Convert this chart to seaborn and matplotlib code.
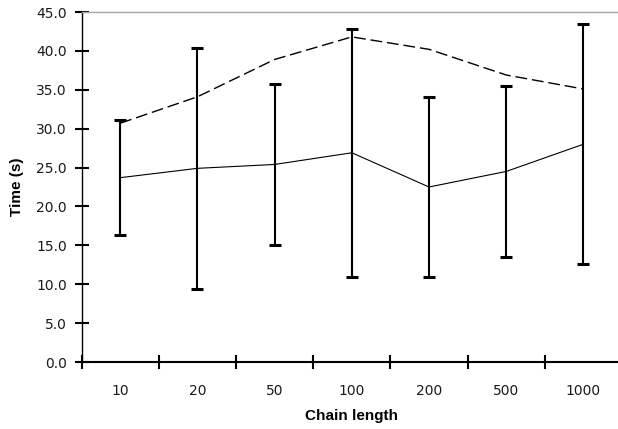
import matplotlib
matplotlib.use("Agg")
import matplotlib.pyplot as plt
import seaborn as sns
import numpy as np
import pandas as pd

# ---- data ----
chain_lengths = ["10", "20", "50", "100", "200", "500", "1000"]
mean_time = [23.7, 24.9, 25.4, 26.9, 22.5, 24.5, 28.0]
sd_time = [7.4, 15.45, 10.35, 15.95, 11.55, 11.05, 15.45]
upper_time = [30.7, 34.1, 38.9, 41.8, 40.2, 36.9, 35.1]
y_ticks = [0, 5, 10, 15, 20, 25, 30, 35, 40, 45]
y_tick_labels = ["0.0", "5.0", "10.0", "15.0", "20.0", "25.0", "30.0", "35.0", "40.0", "45.0"]
x_label = "Chain length"
y_label = "Time (s)"

sns.set_theme(style="white")
plt.rcParams["font.family"] = ["DejaVu Sans"]

fig = plt.figure(figsize=(6.18, 4.29), dpi=100)
fig.patch.set_facecolor("white")
W, H = 618, 429
ax_left, ax_right, ax_top, ax_bottom = 81.7, 622.0, 12.0, 362.0
ax = fig.add_axes([ax_left / W, (H - ax_bottom) / H,
                   (ax_right - ax_left) / W, (ax_bottom - ax_top) / H])
ax.set_facecolor("white")

pos = np.arange(len(chain_lengths))
df = pd.DataFrame({"pos": pos, "mean": mean_time, "upper": upper_time, "sd": sd_time})

sns.lineplot(data=df, x="pos", y="upper", ax=ax, color="black", linewidth=1.0,
             linestyle=(0, (8.5, 3.5)))
sns.lineplot(data=df, x="pos", y="mean", ax=ax, color="black", linewidth=0.8)
ax.errorbar(df["pos"], df["mean"], yerr=df["sd"], fmt="none", ecolor="black",
            elinewidth=1.5, capsize=4.4, capthick=2.2, zorder=3)

ax.set_xlim(-0.5, len(chain_lengths) - 0.5)
ax.set_ylim(0, 45)

# category boundaries as major ticks, labels at centres as minor ticks
ax.set_xticks(np.arange(-0.5, len(chain_lengths), 1.0))
ax.set_xticklabels([])
ax.set_xticks(pos, minor=True)
ax.set_xticklabels(chain_lengths, minor=True)
ax.tick_params(axis="x", which="major", direction="inout", length=9.4, width=1.5,
               color="black", bottom=True, labelbottom=False)
ax.tick_params(axis="x", which="minor", length=0, pad=16, labelsize=10,
               labelcolor="#1a1a1a", bottom=True)

ax.set_yticks(y_ticks)
ax.set_yticklabels(y_tick_labels)
ax.tick_params(axis="y", which="major", direction="inout", length=9.4, width=1.5,
               color="black", left=True, pad=6, labelsize=10, labelcolor="#1a1a1a")

ax.spines["right"].set_visible(False)
ax.spines["left"].set_color("black")
ax.spines["left"].set_linewidth(1.0)
ax.spines["bottom"].set_color("black")
ax.spines["bottom"].set_linewidth(1.5)
ax.spines["top"].set_color("#a6a6a6")
ax.spines["top"].set_linewidth(1.0)
ax.grid(False)

label_font = dict(fontsize=11, fontweight="bold", color="black",
                  family=["Liberation Sans", "DejaVu Sans"])
ax.set_xlabel(x_label, **label_font)
ax.set_ylabel(y_label, **label_font)
ax.xaxis.set_label_coords(0.5, (ax_bottom - 416) / (ax_bottom - ax_top))
ax.xaxis.label.set_verticalalignment("center")
ax.yaxis.set_label_coords((17 - ax_left) / (ax_right - ax_left), 0.5)
ax.yaxis.label.set_verticalalignment("center")

fig.savefig("out.png", dpi=100, facecolor="white")
